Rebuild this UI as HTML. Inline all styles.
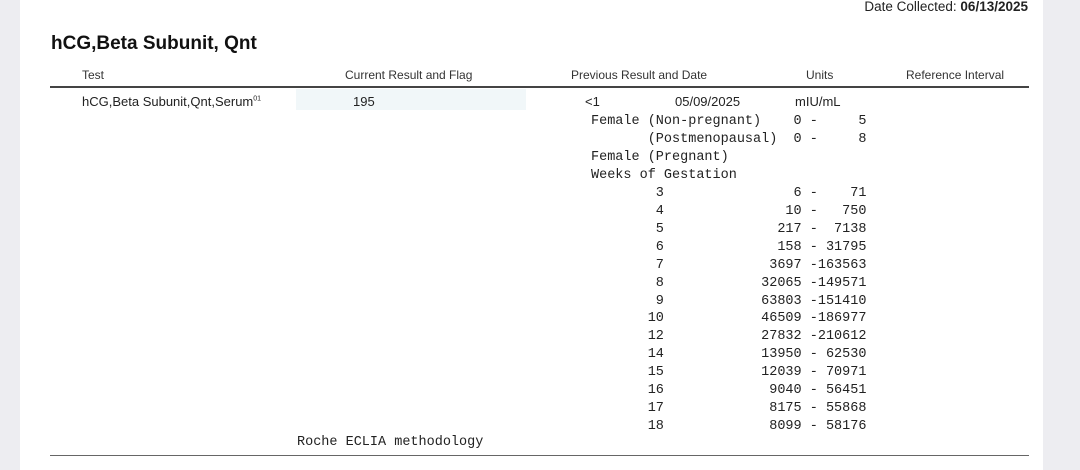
<!DOCTYPE html>
<html><head><meta charset="utf-8"><style>
body{margin:0;width:1080px;height:470px;background:#fff;position:relative;overflow:hidden;font-family:"Liberation Sans",sans-serif;color:#222}
.g{position:absolute;top:0;bottom:0;background:#ededf1}
.a{position:absolute;white-space:pre}
.h{font-size:12px;color:#333;top:68px}
pre{position:absolute;margin:0;font-family:"Liberation Mono",monospace;font-size:13.5px;line-height:17.95px;color:#222}
</style></head><body>
<div class="g" style="left:0;width:20px"></div>
<div class="g" style="left:1043px;width:37px"></div>
<div class="a" style="right:52px;top:-1px;font-size:13.5px;color:#222">Date Collected: <b>06/13/2025</b></div>
<div class="a" style="left:51px;top:33px;font-size:19px;font-weight:bold;color:#111">hCG,Beta Subunit, Qnt</div>
<div class="a h" style="left:82px">Test</div>
<div class="a h" style="left:345px">Current Result and Flag</div>
<div class="a h" style="left:571px">Previous Result and Date</div>
<div class="a h" style="left:806px">Units</div>
<div class="a h" style="left:906px">Reference Interval</div>
<div style="position:absolute;left:50px;width:979px;top:86px;height:2px;background:#444"></div>
<div style="position:absolute;left:296px;width:230px;top:89px;height:21px;background:#f1f7f9"></div>
<div class="a" style="left:82px;top:94px;font-size:13px">hCG,Beta Subunit,Qnt,Serum<sup style="font-size:7px">01</sup></div>
<div class="a" style="left:353px;top:94px;font-size:13px">195</div>
<div class="a" style="left:585px;top:94px;font-size:13px">&lt;1</div>
<div class="a" style="left:675px;top:94px;font-size:13px">05/09/2025</div>
<div class="a" style="left:795px;top:94px;font-size:13px">mIU/mL</div>
<pre style="left:591px;top:113px">Female (Non-pregnant)    0 -     5
       (Postmenopausal)  0 -     8
Female (Pregnant)
Weeks of Gestation
        3                6 -    71
        4               10 -   750
        5              217 -  7138
        6              158 - 31795
        7             3697 -163563
        8            32065 -149571
        9            63803 -151410
       10            46509 -186977
       12            27832 -210612
       14            13950 - 62530
       15            12039 - 70971
       16             9040 - 56451
       17             8175 - 55868
       18             8099 - 58176</pre>
<pre style="left:297px;top:434px">Roche ECLIA methodology</pre>
<div style="position:absolute;left:50px;width:979px;top:455px;height:1px;background:#666"></div>
</body></html>
